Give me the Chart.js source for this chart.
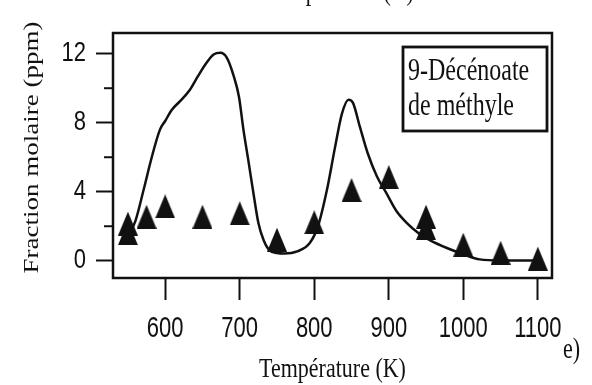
<!DOCTYPE html>
<html>
<head>
<meta charset="utf-8">
<script src="https://cdn.jsdelivr.net/npm/chart.js@4/dist/chart.umd.min.js"></script>
<style>
  html, body { margin: 0; padding: 0; background: #fff; }
  #wrap { width: 592px; height: 385px; }
</style>
</head>
<body>
<div id="wrap"><canvas id="c" width="592" height="385"></canvas></div>
<script>
// Mesures expérimentales (triangles)
const tempsMesure    = [550, 550, 575, 600, 650, 700, 750, 800, 850, 900, 950, 950, 1000, 1050, 1100];
const fractionMesure = [2.15, 1.6, 2.55, 3.15, 2.55, 2.75, 1.22, 2.23, 4.1, 4.85, 2.55, 1.9, 0.93, 0.46, 0.12];

// Simulation (trait continu)
const tempsModele    = [550, 560, 571, 582, 593, 600, 609, 620, 633, 644, 656, 665, 674, 683, 692, 699, 705, 712, 719, 725, 732, 740, 750, 760, 777, 794, 805, 817, 828, 837, 846, 852, 861, 872, 884, 897, 910, 924, 940, 955, 978, 1000, 1022, 1050, 1100];
const fractionModele = [1.4, 2.3, 4.1, 6.0, 7.6, 8.1, 8.75, 9.25, 9.9, 10.7, 11.5, 11.95, 12.05, 11.75, 10.7, 9.5, 7.6, 5.7, 3.75, 2.2, 1.2, 0.6, 0.45, 0.42, 0.54, 1.03, 2.0, 4.1, 6.6, 8.5, 9.33, 9.15, 7.8, 6.2, 4.9, 3.9, 2.9, 2.2, 1.6, 1.2, 0.74, 0.38, 0.08, 0.02, 0.02];

// Graduations
const xTicks = [600, 700, 800, 900, 1000, 1100];
const yTicks = [0, 2, 4, 6, 8, 10, 12];
const yLabels = [0, 4, 8, 12];
const yMinor = [2, 6, 10];

const titreX = 'Température (K)';
const titreY = 'Fraction molaire (ppm)';
const legende = ['9-Décénoate', 'de méthyle'];
const repere = 'e)';

const ink = '#111';
const SANS = '"Liberation Sans", Arial, sans-serif';
const SERIF = '"Liberation Serif", "Times New Roman", serif';

function triangleMarker(w, h) {
  const c = document.createElement('canvas');
  c.width = w; c.height = h;
  const g = c.getContext('2d');
  g.fillStyle = ink;
  g.beginPath();
  g.moveTo(w / 2, 0);
  g.lineTo(w, h);
  g.lineTo(0, h);
  g.closePath();
  g.fill();
  return c;
}

function tallText(ctx, text, x, y, font, align, sy, baseline) {
  ctx.save();
  ctx.translate(x, y);
  ctx.scale(1, sy);
  ctx.font = font;
  ctx.fillStyle = ink;
  ctx.textAlign = align;
  ctx.textBaseline = baseline || 'middle';
  ctx.fillText(text, 0, 0);
  ctx.restore();
}

const decor = {
  id: 'decor',
  afterDraw(chart) {
    const ctx = chart.ctx;
    const a = chart.chartArea;
    const xs = chart.scales.x, ys = chart.scales.y;

    // cadre
    ctx.save();
    ctx.strokeStyle = ink;
    ctx.lineWidth = 2.5;
    ctx.strokeRect(a.left, a.top, a.right - a.left, a.bottom - a.top);

    // graduations secondaires de l'axe Y
    ctx.lineWidth = 2;
    yMinor.forEach(v => {
      const py = ys.getPixelForValue(v);
      ctx.beginPath();
      ctx.moveTo(a.left - 9, py);
      ctx.lineTo(a.left, py);
      ctx.stroke();
    });

    // encadré de légende
    ctx.lineWidth = 2.8;
    ctx.strokeRect(a.right - 149, a.top + 14, 144, 84);
    ctx.restore();

    legende.forEach((t, i) => {
      tallText(ctx, t, a.right - 144, a.top + 39 + i * 35, '24px ' + SERIF, 'left', 1.3);
    });

    // étiquettes des graduations
    yLabels.forEach(v => {
      tallText(ctx, String(v), a.left - 27, ys.getPixelForValue(v), '22px ' + SANS, 'right', 1.27);
    });
    xTicks.forEach(v => {
      tallText(ctx, String(v), xs.getPixelForValue(v), a.bottom + 51, '22px ' + SANS, 'center', 1.33);
    });

    // titres des axes
    const cx = (a.left + a.right) / 2;
    tallText(ctx, titreX, cx, a.bottom + 92, '22px ' + SERIF, 'center', 1.2);
    tallText(ctx, titreX, cx + 8, 0, '22px ' + SERIF, 'center', 1.2, 'alphabetic');
    tallText(ctx, repere, a.right + 11, a.bottom + 72, '22px ' + SERIF, 'left', 1.3);

    ctx.save();
    ctx.translate(33, (a.top + a.bottom) / 2 - 8);
    ctx.rotate(-Math.PI / 2);
    ctx.scale(1.35, 1);
    ctx.font = '20px ' + SERIF;
    ctx.fillStyle = ink;
    ctx.textAlign = 'center';
    ctx.textBaseline = 'middle';
    ctx.fillText(titreY, 0, 0);
    ctx.restore();
  }
};

const modele = tempsModele.map((t, i) => ({ x: t, y: fractionModele[i] }));
const mesures = tempsMesure.map((t, i) => ({ x: t, y: fractionMesure[i] }));

new Chart(document.getElementById('c'), {
  type: 'scatter',
  data: {
    datasets: [
      {
        label: 'Modèle',
        data: modele,
        showLine: true,
        borderColor: ink,
        borderWidth: 2.5,
        pointRadius: 0,
        cubicInterpolationMode: 'monotone',
        fill: false
      },
      {
        label: 'Expérience',
        data: mesures,
        showLine: false,
        pointStyle: triangleMarker(20, 24),
        pointRadius: 10
      }
    ]
  },
  options: {
    responsive: false,
    animation: false,
    layout: { padding: { left: 96, right: 40, top: 33, bottom: 85 } },
    plugins: { legend: { display: false }, tooltip: { enabled: false } },
    scales: {
      x: {
        type: 'linear',
        min: 530,
        max: 1119,
        afterBuildTicks: s => { s.ticks = xTicks.map(v => ({ value: v })); },
        ticks: { display: false },
        border: { display: false },
        grid: { drawOnChartArea: false, drawTicks: true, tickLength: 22, tickWidth: 2, tickColor: ink }
      },
      y: {
        type: 'linear',
        min: -1,
        max: 13.2,
        afterBuildTicks: s => { s.ticks = yTicks.map(v => ({ value: v })); },
        ticks: { display: false },
        border: { display: false },
        grid: {
          drawOnChartArea: false, drawTicks: true, tickLength: 17, tickWidth: 2,
          tickColor: c => (c.tick && c.tick.value % 4 === 0) ? ink : 'rgba(0,0,0,0)'
        }
      }
    }
  },
  plugins: [decor]
});
</script>
</body>
</html>
